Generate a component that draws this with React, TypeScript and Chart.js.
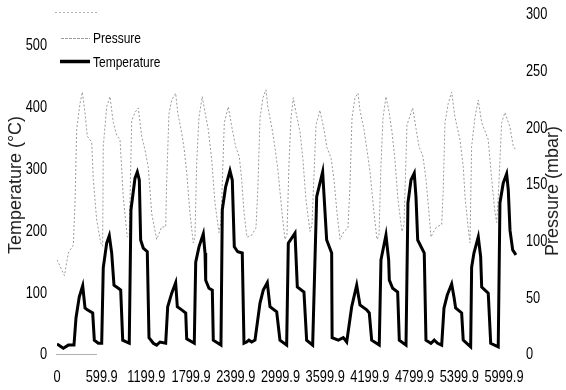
import React, { useEffect, useRef } from "react";
import { Chart, registerables } from "chart.js";

Chart.register(...registerables);

// Time axis (s) and series values
const tempTime = [
  0, 85, 152, 228, 255, 299, 345, 376, 407, 479, 501, 554, 600, 621, 667, 702, 734, 765, 823, 855, 882, 970, 993, 1047, 1078, 1105, 1123, 1158, 1212,
  1235, 1293, 1338, 1383, 1459, 1486, 1540, 1593, 1615, 1674, 1728, 1741, 1843, 1862, 1906, 1964, 1987, 1996, 2040, 2085, 2098, 2201, 2219, 2264, 2322, 2353, 2380, 2426, 2487,
  2510, 2546, 2577, 2613, 2658, 2725, 2769, 2823, 2859, 2949, 2993, 3083, 3105, 3195, 3226, 3315, 3351, 3432, 3486, 3566, 3620, 3687,
  3693, 3776, 3843, 3889, 3956, 4023, 4067, 4157, 4192, 4224, 4326, 4349, 4416, 4452, 4461, 4506, 4573, 4595, 4685, 4711, 4752, 4796, 4819, 4842, 4930,
  4953, 5020, 5064, 5110, 5164, 5195, 5239, 5298, 5329, 5351, 5432, 5453, 5553, 5566, 5597, 5655, 5687, 5701, 5789, 5822, 5923, 5946, 5990, 6036, 6058, 6081, 6117, 6161,
];
const tempValues = [
  18, 11, 16, 16, 60, 94, 112, 76, 73, 68, 24, 19, 19, 141, 181, 193, 165, 113, 108, 105, 24, 19, 235, 286, 296, 283, 186, 173, 167,
  28, 19, 16, 21, 19, 78, 100, 117, 78, 73, 68, 26, 19, 150, 175, 196, 165, 121, 108, 105, 24, 16, 235, 272, 298, 283, 175, 167, 165,
  19, 21, 24, 21, 24, 84, 105, 117, 78, 70, 24, 16, 181, 197, 110, 102, 24, 16, 256, 296, 186, 165,
  28, 24, 28, 21, 78, 113, 81, 73, 68, 24, 16, 154, 194, 154, 121, 108, 102, 24, 16, 246, 283, 294, 256, 186, 165,
  24, 19, 24, 19, 16, 76, 97, 115, 94, 76, 68, 24, 13, 142, 165, 191, 159, 110, 100, 19, 13, 246, 278, 293, 267, 202, 170, 162,
];

const pressTime = [
  0, 100, 152, 219, 242, 264, 309, 340, 376, 407, 466, 487, 533, 587, 613, 621, 667, 711, 756, 801, 846, 889, 943, 970, 1003, 1047, 1091, 1137, 1181, 1225, 1271,
  1338, 1405, 1459, 1473, 1503, 1540, 1593, 1620, 1674, 1709, 1741, 1785, 1829, 1852, 1875, 1906, 1950, 1987, 2031, 2077, 2121, 2174, 2201, 2246, 2299, 2353, 2398, 2447, 2479, 2510,
  2550, 2604, 2671, 2698, 2725, 2765, 2805, 2832, 2886, 2926, 2966, 3020, 3060, 3087, 3114, 3141, 3172, 3208, 3262, 3302, 3342, 3396, 3423, 3477, 3530, 3584, 3624, 3678, 3718, 3758,
  3799, 3852, 3906, 3933, 3960, 4000, 4040, 4067, 4121, 4161, 4201, 4255, 4295, 4322, 4349, 4376, 4416, 4456, 4497, 4537, 4577, 4631, 4658, 4698, 4775, 4819, 4859, 4913, 4953, 4993, 5020,
  5047, 5097, 5164, 5185, 5208, 5252, 5298, 5342, 5409, 5454, 5477, 5521, 5544, 5566, 5611, 5655, 5701, 5789, 5835, 5879, 5902, 5924, 5969, 6013, 6081, 6125, 6161,
];
const pressValues = [
  84, 70, 90, 97, 134, 199, 222, 232, 214, 193, 188, 155, 119, 99, 96, 184, 219, 228, 205, 194, 190, 140, 104, 106, 207, 214, 218, 193, 181, 166, 125,
  102, 113, 113, 154, 213, 225, 231, 214, 196, 181, 161, 125, 99, 104, 170, 210, 228, 214, 199, 172, 134, 108, 117, 205, 219, 199, 184, 175, 155, 126,
  104, 105, 112, 150, 209, 227, 234, 218, 200, 183, 163, 126, 102, 106, 168, 209, 227, 214, 197, 172, 137, 109, 115, 203, 216, 199, 183, 174, 155, 126,
  102, 109, 112, 150, 209, 227, 231, 216, 199, 181, 162, 126, 102, 105, 168, 209, 228, 215, 197, 172, 137, 109, 115, 203, 218, 200, 184, 175, 155, 126, 104,
  108, 113, 115, 146, 205, 222, 232, 210, 190, 166, 140, 111, 99, 184, 210, 225, 205, 190, 155, 126, 117, 140, 205, 214, 201, 184, 181,
];

const xTickValues = [0, 599.9, 1199.9, 1799.9, 2399.9, 2999.9, 3599.9, 4199.9, 4799.9, 5399.9, 5999.9];
const leftTickValues = [0, 100, 200, 300, 400, 500];
const rightTickValues = [0, 50, 100, 150, 200, 250, 300];
const seriesNames = ["Pressure", "Temperature"];
const leftTitle = "Temperature (°C)";
const rightTitle = "Pressure (mbar)";

const FONT = '"Liberation Sans", Arial, sans-serif';
const SQUEEZE = 0.8;

function squeezedText(
  ctx: CanvasRenderingContext2D,
  text: string,
  x: number,
  y: number,
  align: CanvasTextAlign,
) {
  ctx.save();
  ctx.translate(x, y);
  ctx.scale(SQUEEZE, 1);
  ctx.textAlign = align;
  ctx.textBaseline = "middle";
  ctx.fillText(text, 0, 0);
  ctx.restore();
}

const fmtX = (v: number) => (v === 0 ? "0" : v.toFixed(1));

const decorPlugin = {
  id: "decor",
  afterDraw(chart: any) {
    const ctx = chart.ctx as CanvasRenderingContext2D;
    const { x, yT, yP } = chart.scales;
    const area = chart.chartArea;
    ctx.save();

    // tick labels, placed through the chart's own scales
    ctx.fillStyle = "#000";
    ctx.font = `16px ${FONT}`;
    for (const v of xTickValues) {
      squeezedText(ctx, fmtX(v), x.getPixelForValue(v), area.bottom + 23, "center");
    }
    for (const v of leftTickValues) {
      squeezedText(ctx, String(v), area.left - 10, yT.getPixelForValue(v), "right");
    }
    for (const v of rightTickValues) {
      squeezedText(ctx, String(v), area.right + 9, yP.getPixelForValue(v), "left");
    }

    // faint stray lines (legend box remnants)
    ctx.strokeStyle = "#b0b0b0";
    ctx.lineWidth = 1;
    ctx.setLineDash([2, 2]);
    ctx.beginPath();
    ctx.moveTo(55, 12.5);
    ctx.lineTo(97, 12.5);
    ctx.stroke();
    ctx.setLineDash([]);
    ctx.beginPath();
    ctx.moveTo(56, 354.5);
    ctx.lineTo(97, 354.5);
    ctx.stroke();

    // legend
    ctx.strokeStyle = "#9a9a9a";
    ctx.lineWidth = 1;
    ctx.setLineDash([3, 1]);
    ctx.beginPath();
    ctx.moveTo(61, 38.5);
    ctx.lineTo(90, 38.5);
    ctx.stroke();
    ctx.setLineDash([]);
    ctx.strokeStyle = "#000";
    ctx.lineWidth = 3.5;
    ctx.beginPath();
    ctx.moveTo(60, 61.5);
    ctx.lineTo(90, 61.5);
    ctx.stroke();
    ctx.fillStyle = "#000";
    ctx.font = `15px ${FONT}`;
    squeezedText(ctx, seriesNames[0], 93, 39, "left");
    squeezedText(ctx, seriesNames[1], 93, 63, "left");

    // axis titles (both read bottom-to-top)
    ctx.font = `18px ${FONT}`;
    ctx.fillStyle = "#222";
    ctx.textAlign = "center";
    ctx.textBaseline = "middle";
    ctx.save();
    ctx.translate(16, 185);
    ctx.rotate(-Math.PI / 2);
    ctx.fillText(leftTitle, 0, 0);
    ctx.restore();
    ctx.save();
    ctx.translate(553, 191);
    ctx.rotate(-Math.PI / 2);
    ctx.fillText(rightTitle, 0, 0);
    ctx.restore();
    ctx.restore();
  },
};

export default function App() {
  const canvasRef = useRef<HTMLCanvasElement | null>(null);

  useEffect(() => {
    document.body.style.margin = "0";
    const canvas = canvasRef.current;
    if (!canvas) return;
    const chart = new Chart(canvas, {
      type: "line",
      data: {
        datasets: [
          {
            label: seriesNames[1],
            data: tempTime.map((t, i) => ({ x: t, y: tempValues[i] })),
            yAxisID: "yT",
            borderColor: "#000",
            borderWidth: 3,
            pointRadius: 0,
            tension: 0,
            fill: false,
            order: 1,
          },
          {
            label: seriesNames[0],
            data: pressTime.map((t, i) => ({ x: t, y: pressValues[i] })),
            yAxisID: "yP",
            borderColor: "#9a9a9a",
            borderWidth: 1,
            borderDash: [2, 2],
            pointRadius: 0,
            tension: 0,
            fill: false,
            order: 2,
          },
        ],
      },
      options: {
        responsive: false,
        animation: false,
        layout: { padding: { top: 15, left: 0, right: 0, bottom: 0 } },
        plugins: { legend: { display: false }, tooltip: { enabled: false } },
        scales: {
          x: {
            type: "linear",
            min: 0,
            max: 6175,
            grid: { display: false, drawTicks: false },
            border: { display: false },
            afterBuildTicks: (s: any) => {
              s.ticks = xTickValues.map((v) => ({ value: v }));
            },
            afterFit: (s: any) => {
              s.height = 35;
            },
            ticks: { display: false },
          },
          yT: {
            type: "linear",
            position: "left",
            min: 0,
            max: 550,
            grid: { display: false, drawTicks: false },
            border: { display: false },
            afterBuildTicks: (s: any) => {
              s.ticks = leftTickValues.map((v) => ({ value: v }));
            },
            afterFit: (s: any) => {
              s.width = 57;
            },
            ticks: { display: false },
          },
          yP: {
            type: "linear",
            position: "right",
            min: 0,
            max: 300,
            grid: { display: false, drawTicks: false },
            border: { display: false },
            afterBuildTicks: (s: any) => {
              s.ticks = rightTickValues.map((v) => ({ value: v }));
            },
            afterFit: (s: any) => {
              s.width = 49;
            },
            ticks: { display: false },
          },
        },
      },
      plugins: [decorPlugin],
    });
    return () => chart.destroy();
  }, []);

  return (
    <div style={{ position: "absolute", left: 0, top: 0, width: 566, height: 390, background: "#fff" }}>
      <canvas ref={canvasRef} width={566} height={390} style={{ display: "block" }} />
    </div>
  );
}
